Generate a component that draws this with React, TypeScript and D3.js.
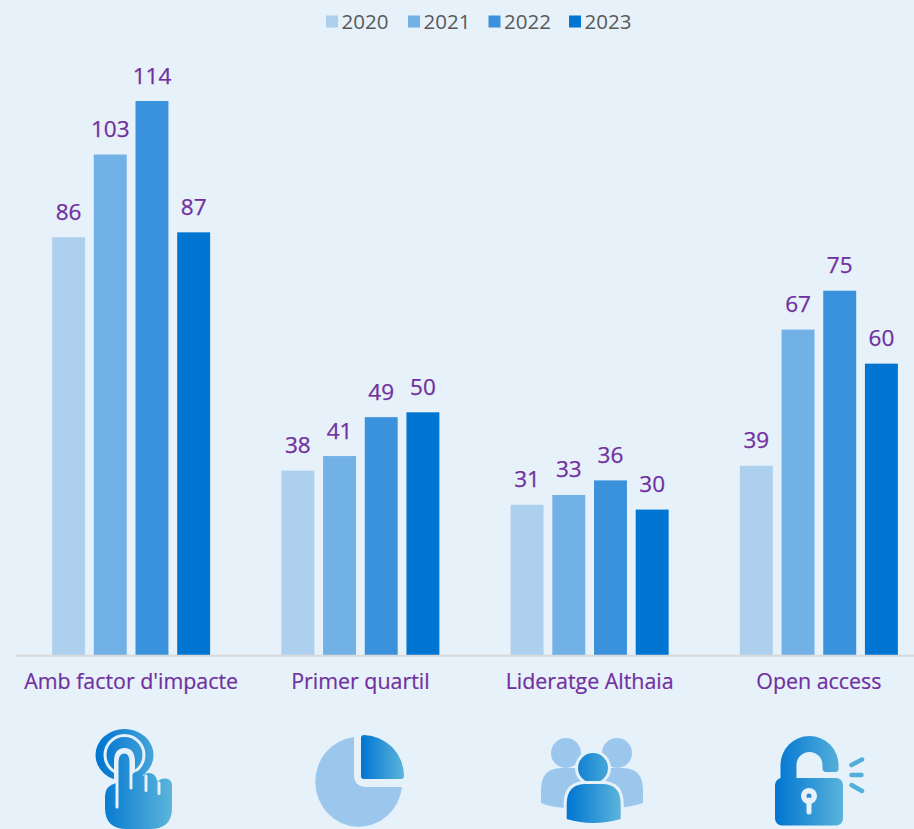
import React from "react";
import * as d3 from "d3";

const categories = ["Amb factor d'impacte", "Primer quartil", "Lideratge Althaia", "Open access"];
const years = ["2020", "2021", "2022", "2023"];
const values2020 = [86, 38, 31, 39];
const values2021 = [103, 41, 33, 67];
const values2022 = [114, 49, 36, 75];
const values2023 = [87, 50, 30, 60];
const seriesValues = [values2020, values2021, values2022, values2023];
const colors = ["#aed0ef", "#72b1e5", "#3a91dc", "#0075d2"];

const W = 914, H = 829;
const BG = "#e6f1fa";
const PURPLE = "#7030a0";
const FONT = "'Open Sans', 'Noto Sans', sans-serif";
const BASE = 655.5;

const x0 = d3.scaleBand<string>().domain(categories).range([16.5, 933.5]);
const x1 = d3.scaleBand<string>().domain(years).range([0, 158]).paddingInner(0.21).paddingOuter(0);
const y = d3.scaleLinear().domain([0, 114]).range([BASE, 101]);

const legendX = [325, 407, 487.5, 568];

function Grad({ id, x1: a, x2: b }: { id: string; x1: number; x2: number }) {
  return (
    <linearGradient id={id} gradientUnits="userSpaceOnUse" x1={a} x2={b} y1={0} y2={0}>
      <stop offset="0" stopColor="#0075d2" />
      <stop offset="1" stopColor="#5cb5da" />
    </linearGradient>
  );
}

function Icons() {
  const pale = "#9bc7ec";
  return (
    <g>
      <defs>
        <Grad id="gHand" x1={98} x2={172} />
        <Grad id="gPie" x1={361} x2={404} />
        <Grad id="gPerson" x1={567} x2={621} />
        <Grad id="gLock" x1={775} x2={845} />
      </defs>
      {/* hand */}
      <ellipse cx={124.5} cy={755} rx={29} ry={26} fill="url(#gHand)" />
      <circle cx={124.5} cy={755} r={19.5} fill="none" stroke={BG} strokeWidth={3} />
      <path d="M114 788 L114 762 Q114 748 124.5 748 Q135 748 135 762 L135 775 L150 775 L150 790 Z" fill={BG} />
      <path d="M116 783 L117 783 L117 762 Q117 751 124.5 751 Q132 751 132 762 L132 775 Q134 771.5 137.5 771.5 Q142 771.5 143.5 776 Q145 773 148.5 773 Q156 773 157.5 782 Q159.5 778.5 165 778.5 Q172 778.5 172 786 L172 808 Q172 829 150 829 L127 829 Q105 829 105 808 L105 796 Q105 786 116 783 Z" fill="url(#gHand)" />
      <path d="M117 807 L117 762 Q117 752 124.5 752 Q131 752 131 762 L131 788 M146 776 L146 790.5 M159 783 L159 793.5" fill="none" stroke={BG} strokeWidth={3} strokeLinecap="round" />
      {/* pie */}
      <path d="M354 737 A43.5 45 0 1 0 402 787 L367 787 Q354 787 354 775 Z" fill={pale} />
      <path d="M361 738 Q361 735 364 735 A41 41 0 0 1 404 776 Q404 779 401 779 L364 779 Q361 779 361 776 Z" fill="url(#gPie)" />
      {/* people */}
      <circle cx={566} cy={753} r={15} fill={pale} />
      <circle cx={617} cy={753} r={15} fill={pale} />
      <path d="M541 803 L541 790 Q541 768 562 768 L580 768 L590 790 L600 768 L622 768 Q643 768 643 790 L643 803 Q632 807 615 808 L565 808 Q550 807 541 803 Z" fill={pale} />
      <circle cx={593} cy={768} r={15} fill="url(#gPerson)" stroke={BG} strokeWidth={6} style={{ paintOrder: "stroke" }} />
      <path d="M566.7 819 L566.7 804 Q566.7 784 586 784 L602 784 Q620.7 784 620.7 804 L620.7 819 Q593 827 566.7 819 Z" fill="url(#gPerson)" stroke={BG} strokeWidth={6} style={{ paintOrder: "stroke" }} />
      {/* lock */}
      <path d="M780.5 780 L780.5 765 A29 29 0 0 1 838.5 765 L838.5 769 Q838.5 772 835.5 772 L826 772 Q822.5 772 822.5 768 L822.5 765 A13 13 0 0 0 796.5 765 L796.5 780 Z" fill="url(#gLock)" />
      <rect x={775} y={778} width={68} height={47.5} rx={7} fill="url(#gLock)" />
      <circle cx={809} cy={796} r={8} fill={BG} />
      <circle cx={809} cy={796} r={2.5} fill="#2a8bd6" />
      <path d="M809 800 L809 812" stroke={BG} strokeWidth={5} strokeLinecap="round" />
      <path d="M851.5 765 L862 759.5 M851.5 775 L861.5 775 M851.5 785 L862 791" stroke="#52afdb" strokeWidth={4.5} strokeLinecap="round" />
    </g>
  );
}

export default function App() {
  return (
    <svg width={W} height={H} viewBox={`0 0 ${W} ${H}`}
      style={{ position: "fixed", left: 0, top: 0, display: "block", background: BG, fontFamily: FONT }}>
      <rect width={W} height={H} fill={BG} />
      {years.map((yr, i) => (
        <g key={yr}>
          <rect x={legendX[i] + 1} y={15.5} width={12} height={12} fill={colors[i]} />
          <text x={legendX[i] + 16.5} y={29} fontSize={20.5} fill="#595959">{yr}</text>
        </g>
      ))}
      {categories.map((c, ci) => {
        const gx = x0(c)! + (x0.bandwidth() - 158) / 2;
        return (
          <g key={c}>
            {years.map((yr, si) => {
              const v = seriesValues[si][ci];
              const bx = gx + x1(yr)!;
              return (
                <g key={yr}>
                  <rect x={bx} y={y(v)} width={x1.bandwidth()} height={BASE - y(v)} fill={colors[si]} />
                  <text x={bx + x1.bandwidth() / 2} y={y(v) - 17.5} textAnchor="middle" fontSize={22.5} fontWeight={500} stroke={PURPLE} strokeWidth={0.25} fill={PURPLE}>{v}</text>
                </g>
              );
            })}
            <text x={x0(c)! + x0.bandwidth() / 2} y={689} textAnchor="middle" fontSize={21.4} fontWeight={500} stroke={PURPLE} strokeWidth={0.2} fill={PURPLE}>{c}</text>
          </g>
        );
      })}
      <line x1={16} x2={W} y1={655.7} y2={655.7} stroke="#d9d9d9" strokeWidth={2} />
      <Icons />
    </svg>
  );
}
